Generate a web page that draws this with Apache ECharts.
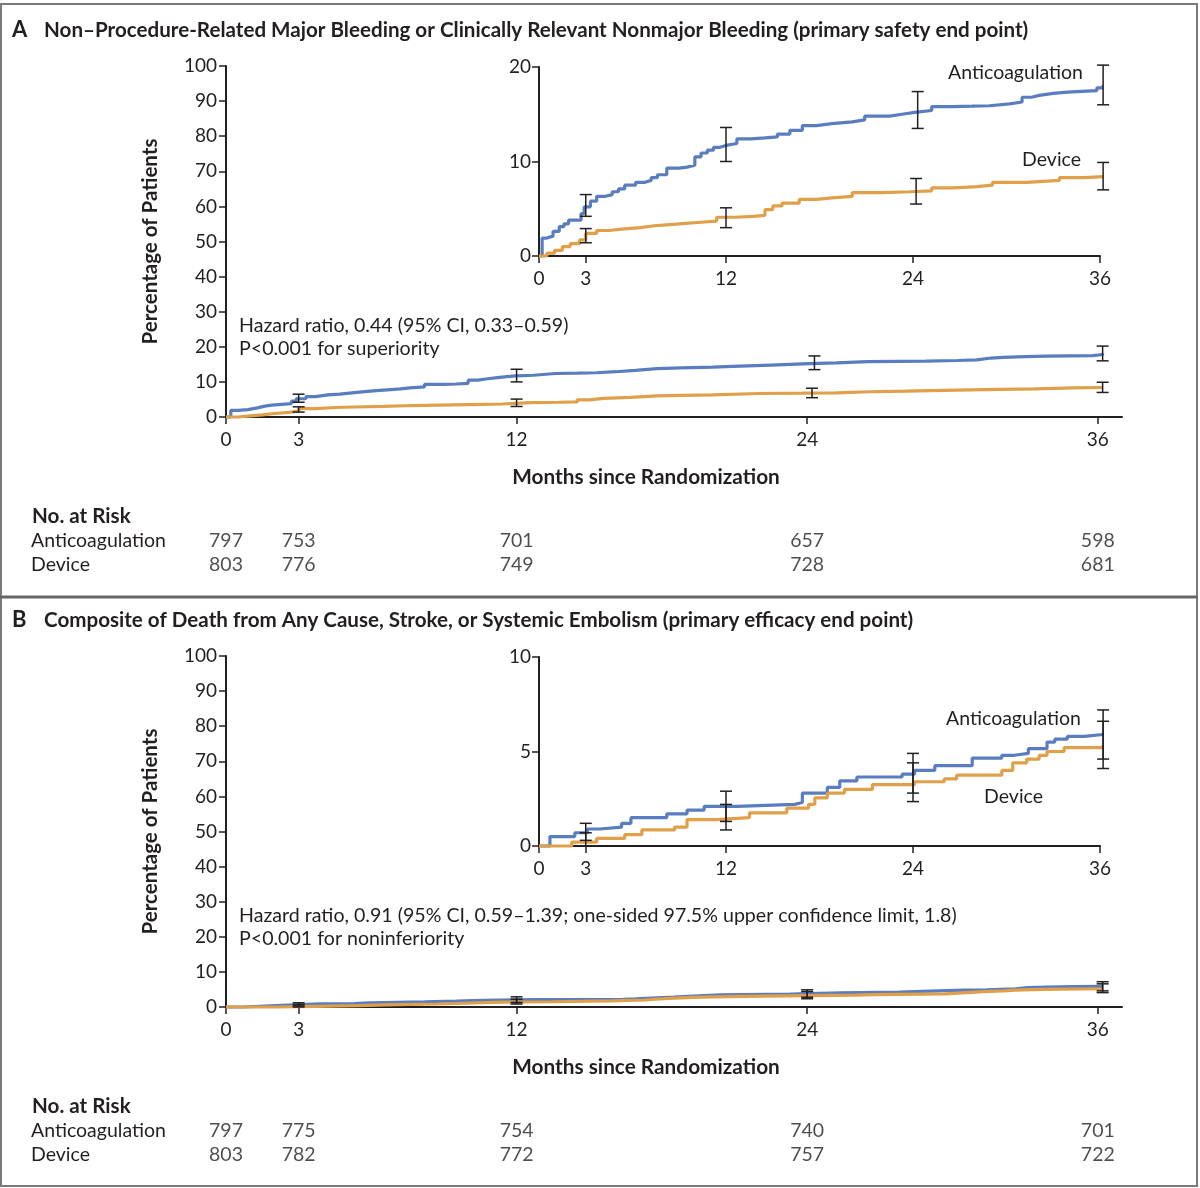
<!DOCTYPE html>
<html>
<head>
<meta charset="utf-8">
<script src="https://cdn.jsdelivr.net/npm/echarts@6/dist/echarts.min.js"></script>
<style>
  html, body { margin: 0; padding: 0; background: #fff; }
  #chart { width: 1200px; height: 1188px; }
</style>
</head>
<body>
<div id="chart"></div>
<script>
// ---- data ----
var months = [0, 3, 12, 24, 36]

// panel A: bleeding end point, step knots [month, percent]
var aAnti = [[0,0],[0.2,1.9],[0.5,2.1],[0.9,2.6],[1.3,3.1],[1.6,3.4],[1.9,3.8],[2.7,4.5],[2.9,5.2],[3.3,5.8],[3.7,6.3],[4.2,6.5],
  [4.7,6.8],[5.1,7.1],[5.5,7.5],[6.2,7.8],[6.8,8.0],[7.2,8.3],[7.6,8.6],[8.2,9.3],[9.0,9.4],[9.5,9.6],[10.0,10.5],[10.4,10.9],
  [10.8,11.2],[11.2,11.5],[11.6,11.7],[12.0,11.9],[12.7,12.4],[13.6,12.5],[14.5,12.6],[15.3,12.9],[16.1,13.3],[16.9,13.8],
  [17.8,14.0],[18.8,14.2],[20.1,14.4],[20.9,14.8],[22.5,15.0],[23.3,15.2],[24.1,15.4],[25.2,15.8],[26.5,15.85],[27.8,15.9],
  [28.9,16.1],[30.2,16.3],[31.0,16.8],[31.6,17.0],[32.1,17.2],[33.0,17.35],[33.9,17.5],[35.8,17.8],[36.2,18.1]]
var aDev = [[0,0],[0.5,0.3],[1.0,0.6],[1.5,1.0],[2.0,1.3],[2.6,1.7],[3.0,2.4],[3.7,2.7],[4.5,2.85],[5.3,3.0],[6.5,3.2],
  [7.4,3.3],[8.2,3.45],[9.4,3.6],[10.6,3.7],[11.4,4.1],[12.6,4.2],[13.75,4.3],[14.5,4.9],[15.0,5.3],[15.6,5.6],[16.7,6.0],
  [17.8,6.15],[18.8,6.3],[20.1,6.7],[22.0,6.8],[23.8,6.9],[25.2,7.2],[26.6,7.35],[28.1,7.5],[29.1,7.8],[31.3,8.0],
  [33.4,8.3],[35.0,8.4],[36.2,8.5]]
// 95% CI bars [month, low, high]
var aAntiCI = [[3,4.2,6.5],[12,10.0,13.6],[24.3,13.5,17.4],[36.2,16.0,20.2]]
var aDevCI = [[3,1.4,2.9],[12,3.0,5.1],[24.2,5.5,8.2],[36.2,7.0,9.9]]
var aRiskAnti = [797, 753, 701, 657, 598]
var aRiskDev = [803, 776, 749, 728, 681]

// panel B: death, stroke, systemic embolism
var bAnti = [[0,0],[0.7,0.5],[2.3,0.7],[3.1,0.9],[3.9,1.0],[5.3,1.2],[5.9,1.5],[8.2,1.7],[9.5,1.9],[10.6,2.1],[12.7,2.2],[16.4,2.3],
  [16.9,2.8],[18.5,3.1],[19.3,3.45],[20.4,3.65],[23.3,3.8],[24.1,4.0],[25.4,4.25],[27.8,4.65],[29.7,4.8],[30.5,4.9],[31.4,5.15],
  [32.6,5.5],[33.1,5.65],[33.9,5.8],[35.0,5.9],[36.2,5.9]]
var bDev = [[0,0],[2.1,0.2],[3.7,0.4],[5.5,0.6],[6.6,0.85],[8.7,1.0],[9.5,1.4],[11.4,1.5],[13.5,1.75],[15.9,2.0],[17.3,2.2],
  [17.7,2.55],[18.5,2.8],[19.6,3.0],[21.4,3.25],[24.1,3.4],[26.0,3.55],[26.8,3.75],[29.7,4.0],[30.4,4.4],[31.3,4.6],[32.1,4.8],
  [32.6,5.0],[33.7,5.2],[36.2,5.35]]
var bAntiCI = [[3,0.3,1.2],[12,1.3,2.9],[24,2.8,4.9],[36.2,4.6,7.2]]
var bDevCI = [[3,0.0,0.7],[12,0.85,2.2],[24,2.35,4.4],[36.2,4.1,6.6]]
var bRiskAnti = [797, 775, 754, 740, 701]
var bRiskDev = [803, 782, 772, 757, 722]

var BLUE = '#5a7dc0'
var ORANGE = '#e0a04a'
var INK = '#231f20'
var FONT = 'Lato, "Open Sans", sans-serif'

var chart = echarts.init(document.getElementById('chart'))

var riskRows = function (anti, dev) {
  var out = []
  months.forEach(function (m, i) {
    out.push([m, 0, anti[i]])
    out.push([m, 1, dev[i]])
  })
  return out
}

// I-shaped error bar
var errBar = function (params, api) {
  var lo = api.coord([api.value(0), api.value(1)])
  var hi = api.coord([api.value(0), api.value(2)])
  var w = 6
  var st = { stroke: INK, lineWidth: 1.5 }
  return {
    type: 'group',
    children: [
      { type: 'line', shape: { x1: lo[0], y1: lo[1], x2: hi[0], y2: hi[1] }, style: st },
      { type: 'line', shape: { x1: lo[0] - w, y1: lo[1], x2: lo[0] + w, y2: lo[1] }, style: st },
      { type: 'line', shape: { x1: hi[0] - w, y1: hi[1], x2: hi[0] + w, y2: hi[1] }, style: st }
    ]
  }
}

var axisLine = { show: true, lineStyle: { color: INK, width: 2 } }
var tick = { show: true, inside: false, length: 7, lineStyle: { color: INK, width: 1.5 } }
var tickFont = { fontSize: 19, color: INK, fontFamily: FONT }

var grids = [], xAxes = [], yAxes = [], series = [], graphics = []

var addPanel = function (dy, o) {
  var g0 = grids.length
  // main plot
  grids.push({ left: 226, width: 896, top: 66 + dy, height: 351 })
  // inset
  grids.push({ left: 539, width: 561, top: 67 + dy, height: 189 })
  // at-risk table
  grids.push({ left: 226, width: 896, top: 529 + dy, height: 48 })

  xAxes.push({
    gridIndex: g0, type: 'value', min: 0, max: 37,
    axisLine: axisLine, splitLine: { show: false },
    axisTick: Object.assign({ customValues: months }, tick),
    axisLabel: Object.assign({ customValues: months, margin: 13 }, tickFont)
  })
  xAxes.push({
    gridIndex: g0 + 1, type: 'value', min: 0, max: 36,
    axisLine: axisLine, splitLine: { show: false },
    axisTick: Object.assign({ customValues: months }, tick),
    axisLabel: Object.assign({ customValues: months, margin: 13 }, tickFont)
  })
  xAxes.push({ gridIndex: g0 + 2, type: 'value', min: 0, max: 37, show: false })

  yAxes.push({
    gridIndex: g0, type: 'value', min: 0, max: 100, interval: 10,
    axisLine: axisLine, axisTick: tick, splitLine: { show: false },
    axisLabel: Object.assign({ margin: 9 }, tickFont),
    name: 'Percentage of Patients', nameLocation: 'middle', nameGap: 65,
    nameTextStyle: { fontSize: 20.5, fontWeight: 'bold', color: INK, fontFamily: FONT }
  })
  yAxes.push({
    gridIndex: g0 + 1, type: 'value', min: 0, max: o.insetMax, interval: o.insetMax / 2,
    axisLine: axisLine, axisTick: tick, splitLine: { show: false },
    axisLabel: Object.assign({ margin: 8 }, tickFont)
  })
  yAxes.push({ gridIndex: g0 + 2, type: 'category', data: ['Anticoagulation', 'Device'], inverse: true, show: false })

  var curve = function (xi, data, color) {
    return {
      type: 'line', xAxisIndex: xi, yAxisIndex: xi, data: data, step: 'end',
      showSymbol: false, symbol: 'none', clip: false, silent: true,
      lineStyle: { color: color, width: 3.2 }
    }
  }
  var bars = function (xi, data) {
    return {
      type: 'custom', xAxisIndex: xi, yAxisIndex: xi, data: data, clip: false, silent: true,
      encode: { x: 0, y: [1, 2] }, renderItem: errBar, z: 5
    }
  }
  ;[g0, g0 + 1].forEach(function (xi) {
    series.push(curve(xi, o.anti, BLUE))
    series.push(curve(xi, o.dev, ORANGE))
    series.push(bars(xi, o.antiCI))
    series.push(bars(xi, o.devCI))
  })
  series.push({
    type: 'scatter', xAxisIndex: g0 + 2, yAxisIndex: g0 + 2, silent: true,
    data: riskRows(o.riskAnti, o.riskDev), symbolSize: 2,
    itemStyle: { color: 'rgba(0,0,0,0)' },
    label: {
      show: true, position: 'inside', fontSize: 19.5, color: INK, fontFamily: FONT,
      formatter: function (p) { return String(p.value[2]) }
    }
  })

  var txt = function (x, y, s, size, weight, align) {
    graphics.push({
      type: 'text', x: x, y: y + dy, silent: true,
      style: { text: s, fontSize: size, fontWeight: weight || 'normal', fill: INK, fontFamily: FONT,
        textAlign: align || 'left', textVerticalAlign: 'middle' }
    })
  }
  txt(12, 30, o.letter, 22, 'bold')
  txt(44, 30, o.title, 20.6, 'bold')
  txt(239, 326, o.hr, 19.6)
  txt(239, 349, o.p, 19.6)
  txt(646, 477, 'Months since Randomization', 20.8, 'bold', 'center')
  txt(32, 516, 'No. at Risk', 20.6, 'bold')
  txt(31, 541, 'Anticoagulation', 19.5)
  txt(31, 565, 'Device', 19.5)
  txt(o.antiLab[0], o.antiLab[1], 'Anticoagulation', 19.5, 'normal', 'right')
  txt(o.devLab[0], o.devLab[1], 'Device', 19.5, 'normal', 'right')
}

addPanel(0, {
  letter: 'A',
  title: 'Non\u2013Procedure-Related Major Bleeding or Clinically Relevant Nonmajor Bleeding (primary safety end point)',
  hr: 'Hazard ratio, 0.44 (95% CI, 0.33\u20130.59)',
  p: 'P<0.001 for superiority',
  insetMax: 20,
  anti: aAnti, dev: aDev, antiCI: aAntiCI, devCI: aDevCI,
  riskAnti: aRiskAnti, riskDev: aRiskDev,
  antiLab: [1083, 73], devLab: [1081, 160]
})
addPanel(590, {
  letter: 'B',
  title: 'Composite of Death from Any Cause, Stroke, or Systemic Embolism (primary efficacy end point)',
  hr: 'Hazard ratio, 0.91 (95% CI, 0.59\u20131.39; one-sided 97.5% upper confidence limit, 1.8)',
  p: 'P<0.001 for noninferiority',
  insetMax: 10,
  anti: bAnti, dev: bDev, antiCI: bAntiCI, devCI: bDevCI,
  riskAnti: bRiskAnti, riskDev: bRiskDev,
  antiLab: [1081, 129], devLab: [1043, 207]
})

// frame and divider
graphics.push({ type: 'rect', shape: { x: 1, y: 4, width: 1196, height: 1182 }, style: { fill: 'none', stroke: '#7a7a7a', lineWidth: 2 }, silent: true })
graphics.push({ type: 'line', shape: { x1: 0, y1: 597, x2: 1198, y2: 597 }, style: { stroke: '#666', lineWidth: 3 }, silent: true })

chart.setOption({
  animation: false,
  backgroundColor: '#fff',
  grid: grids,
  xAxis: xAxes,
  yAxis: yAxes,
  series: series,
  graphic: graphics
})
</script>
</body>
</html>
